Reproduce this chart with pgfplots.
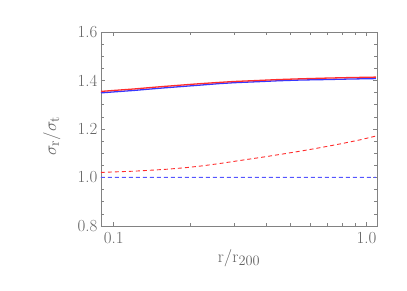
\documentclass[border=0pt]{standalone}
\usepackage{pgfplots}
\pgfplotsset{compat=1.18}
\definecolor{myred}{RGB}{255,45,45}
\definecolor{myblue}{RGB}{55,55,255}
\definecolor{dashblue}{RGB}{85,85,255}
\definecolor{axgray}{RGB}{130,130,130}
\definecolor{txtgray}{RGB}{100,100,100}
\begin{document}
\begin{tikzpicture}
\path[use as bounding box] (-101bp,-65bp) rectangle (306bp,226bp);
\begin{axis}[
  at={(0,0)}, anchor=south west,
  scale only axis, width=276bp, height=194bp,
  xmode=log, xmin=0.089, xmax=1.1, ymin=0.8, ymax=1.6,
  xtick={0.1,1}, xticklabels={0.1,1.0},
  minor xtick={0.2,0.3,0.4,0.5,0.6,0.7,0.8,0.9},
  ytick={0.8,1.0,1.2,1.4,1.6}, yticklabels={0.8,1.0,1.2,1.4,1.6},
  minor ytick={0.85,0.9,0.95,1.05,1.1,1.15,1.25,1.3,1.35,1.45,1.5,1.55},
  tick align=inside, major tick length=4.5bp, minor tick length=3bp,
  axis line style={axgray, line width=0.8pt},
  every tick/.style={axgray, line width=0.6pt},
  tick label style={font=\fontsize{17}{20}\selectfont, color=txtgray},
  xticklabel style={yshift=-3bp},
  label style={font=\fontsize{19}{22}\selectfont, color=txtgray},
  xlabel={$\mathrm{r}/\mathrm{r}_{200}$},
  ylabel={$\sigma_{\mathrm{r}}/\sigma_{\mathrm{t}}$},
  xlabel style={at={(axis description cs:0.5,-0.165)}, anchor=center},
  ylabel style={at={(axis description cs:-0.178,0.464)}, anchor=center},
]
\addplot[draw=dashblue, color=dashblue, line width=1pt, no marks, dash pattern=on 4bp off 3bp] coordinates {
(0.089,1.001) (0.2,1.001) (0.5,1.0005) (1.09,1.0005)};
\addplot[myblue, line width=1.3pt, no marks] coordinates {
(0.089,1.349) (0.1,1.353) (0.12,1.359) (0.14,1.365) (0.16,1.370) (0.19,1.376) (0.22,1.381) (0.26,1.387) (0.3,1.391) (0.37,1.395) (0.45,1.399) (0.55,1.402) (0.7,1.404) (0.85,1.406) (1.09,1.408)};
\addplot[myred, line width=1.3pt, no marks] coordinates {
(0.089,1.355) (0.1,1.359) (0.12,1.365) (0.14,1.371) (0.16,1.376) (0.19,1.382) (0.22,1.387) (0.26,1.392) (0.3,1.396) (0.37,1.400) (0.45,1.404) (0.55,1.407) (0.7,1.410) (0.85,1.412) (1.09,1.414)};
\addplot[myred, line width=0.9pt, no marks, dash pattern=on 4bp off 3bp] coordinates {
(0.089,1.021) (0.1,1.023) (0.12,1.026) (0.14,1.030) (0.162,1.034) (0.19,1.040) (0.22,1.047) (0.26,1.057) (0.297,1.066) (0.35,1.077) (0.4,1.086) (0.48,1.099) (0.579,1.113) (0.68,1.126) (0.8,1.140) (0.94,1.155) (1.09,1.171)};
\end{axis}
\end{tikzpicture}
\end{document}
